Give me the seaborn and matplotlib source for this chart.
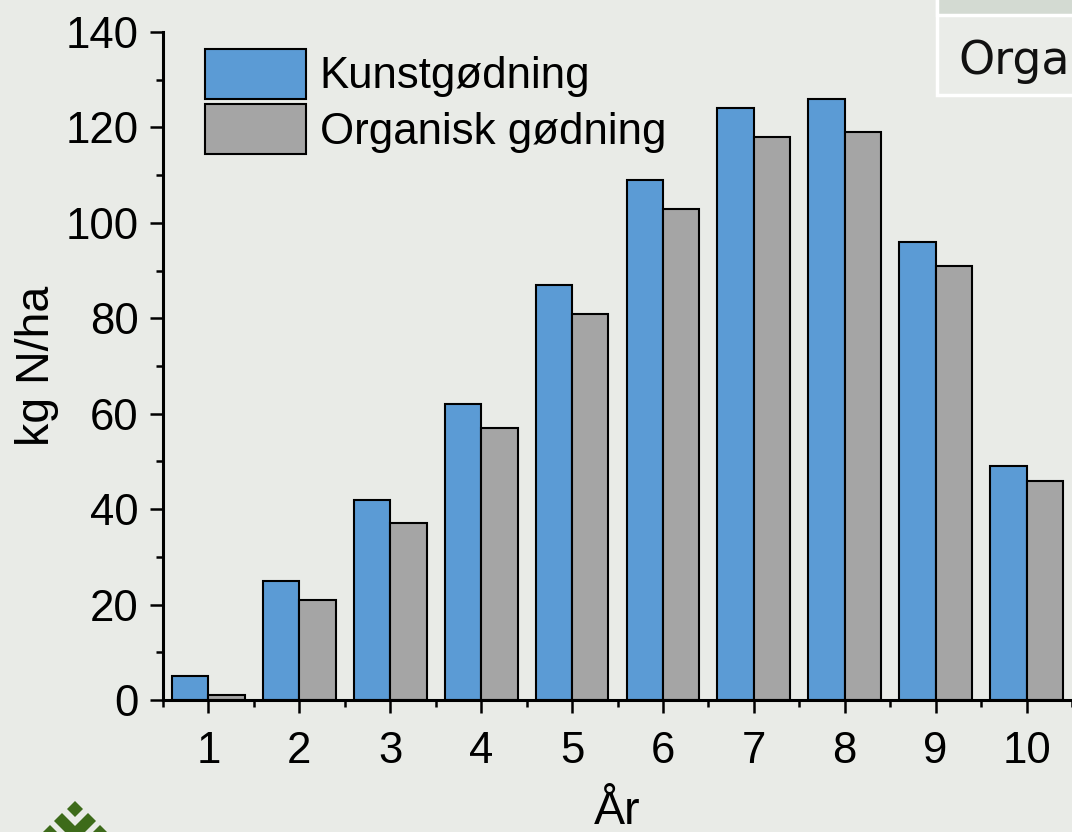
"""Kvælstof pr. år — kunstgødning vs organisk gødning."""

import matplotlib

matplotlib.use("Agg")
import matplotlib.pyplot as plt
import pandas as pd
import seaborn as sns
from matplotlib.patches import Patch, Polygon, Rectangle
from matplotlib.ticker import MultipleLocator

years = [1, 2, 3, 4, 5, 6, 7, 8, 9, 10]
kunst = [5, 25, 42, 62, 87, 109, 124, 126, 96, 49]
organisk = [1, 21, 37, 57, 81, 103, 118, 119, 91, 46]
series = ["Kunstgødning", "Organisk gødning"]
colors = ["#5b9bd5", "#a5a5a5"]

df = pd.DataFrame(
    {
        "År": years * 2,
        "kg N/ha": kunst + organisk,
        "Gødning": [series[0]] * len(years) + [series[1]] * len(years),
    }
)

sns.set_theme(style="ticks")
plt.rcParams["font.family"] = ["Liberation Sans", "DejaVu Sans"]
for key in ("text.color", "axes.labelcolor", "xtick.color", "ytick.color"):
    plt.rcParams[key] = "black"

W, H = 1072, 832
bg = "#e9ebe7"
fig = plt.figure(figsize=(W / 100, H / 100), dpi=100, facecolor=bg)
# axes box in pixels: x 163..1072, y 32..700
ax = fig.add_axes([163 / W, 1 - 700 / H, 1 - 163 / W, (700 - 32) / H])
ax.set_facecolor("none")

sns.barplot(
    data=df,
    x="År",
    y="kg N/ha",
    hue="Gødning",
    palette=colors,
    saturation=1,
    native_scale=True,
    gap=0,
    width=0.8,
    edgecolor="black",
    linewidth=1.5,
    legend=False,
    ax=ax,
)

ax.set_xlim(0.5, 10.5)
ax.set_ylim(0, 140)
ax.set_xticks(years)
ax.xaxis.set_minor_locator(MultipleLocator(0.5))
ax.yaxis.set_major_locator(MultipleLocator(20))
ax.yaxis.set_minor_locator(MultipleLocator(10))
ax.tick_params(which="major", length=9.5, width=1.8, labelsize=31.5, pad=8)
ax.tick_params(axis="x", which="major", pad=13)
ax.tick_params(which="minor", length=5, width=1.8)
for side in ("top", "right"):
    ax.spines[side].set_visible(False)
for side in ("left", "bottom"):
    ax.spines[side].set_linewidth(2.2)
    ax.spines[side].set_color("black")

ax.set_xlabel("År", fontsize=33.5, va="baseline", ha="center")
ax.xaxis.set_label_coords(0.5, -124 / 668)
ax.set_ylabel("kg N/ha", fontsize=33.5, va="center", ha="center")
ax.yaxis.set_label_coords(-126 / 909, 0.5)

handles = [Patch(facecolor=c, edgecolor="black", linewidth=1.5) for c in colors]
ax.legend(
    handles,
    series,
    loc="upper left",
    bbox_to_anchor=((205 - 163) / 909, 1 - (49 - 32) / 668),
    frameon=False,
    fontsize=31.5,
    handlelength=2.3,
    handleheight=1.37,
    handletextpad=0.32,
    labelspacing=0.13,
    borderpad=0,
    borderaxespad=0,
)

# table fragment at the top right of the slide
fig.patches.append(
    Rectangle((937 / W, 1 - 95 / H), 0.2, 95 / H, transform=fig.transFigure,
              facecolor="#eaece8", edgecolor="white", linewidth=2.5, zorder=0)
)
fig.patches.append(
    Rectangle((937 / W, 1 - 15 / H), 0.2, 20 / H, transform=fig.transFigure,
              facecolor="#d3dad2", edgecolor="white", linewidth=2.5, zorder=0)
)
fig.text(958 / W, 1 - 61 / H, "Orga", fontsize=33, va="center",
         family="DejaVu Sans", color="#111111")

# logo fragment bottom left
green = "#3d6b1a"
logo = [
    [(75, 801), (83, 809), (75, 817), (67, 809)],
    [(62, 813), (75, 826), (88, 813), (96, 821), (75, 842), (54, 821)],
    [(43, 832), (50, 825), (58, 833)],
    [(92, 833), (100, 825), (107, 832)],
]
for pts in logo:
    fig.patches.append(
        Polygon([(x / W, 1 - y / H) for x, y in pts], closed=True,
                transform=fig.transFigure, facecolor=green, edgecolor="none")
    )

fig.savefig("out.png", dpi=100, facecolor=bg)
